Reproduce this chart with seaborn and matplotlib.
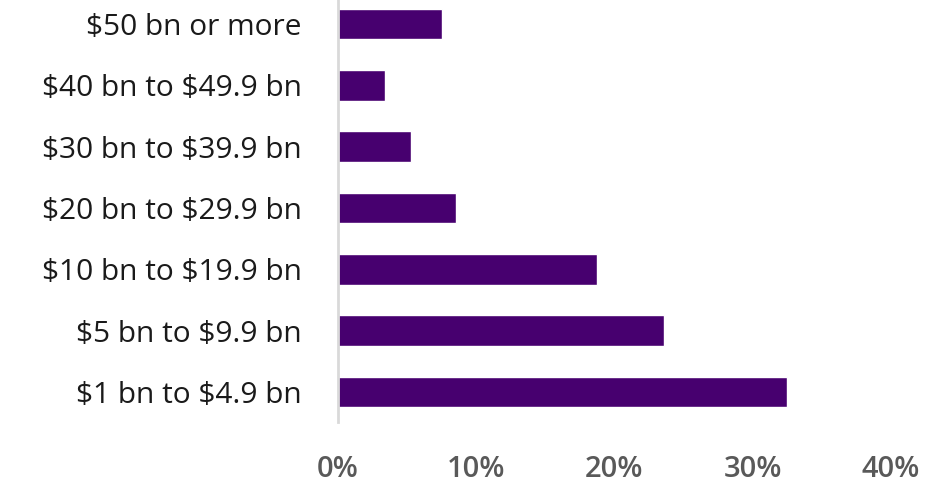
import matplotlib
matplotlib.use("Agg")
import matplotlib.pyplot as plt
import seaborn as sns
import pandas as pd
from matplotlib.ticker import FuncFormatter

categories = ["$50 bn or more", "$40 bn to $49.9 bn", "$30 bn to $39.9 bn",
              "$20 bn to $29.9 bn", "$10 bn to $19.9 bn", "$5 bn to $9.9 bn",
              "$1 bn to $4.9 bn"]
values = [7.5, 3.4, 5.3, 8.5, 18.7, 23.6, 32.5]
x_ticks = [0, 10, 20, 30, 40]

df = pd.DataFrame({"category": categories, "value": values})

sns.set_theme(style="white")
plt.rcParams['font.family'] = ['Open Sans', 'DejaVu Sans']
plt.rcParams['text.parse_math'] = False

fig = plt.figure(figsize=(9.43, 4.84), dpi=100)
ax = fig.add_axes([338/943, 1 - 422/484, (891 - 338)/943, 422/484])

sns.barplot(data=df, x="value", y="category", order=categories, color="#47006F",
            width=0.5, saturation=1, ax=ax, orient="h")

ax.set_xlim(0, 40)
ax.set_ylim(6.49, -0.39)
ax.set_xticks(x_ticks)
ax.xaxis.set_major_formatter(FuncFormatter(lambda v, p: f"{v:.0f}%"))
ax.set_xlabel("")
ax.set_ylabel("")
for s in ["top", "right", "bottom"]:
    ax.spines[s].set_visible(False)
ax.spines["left"].set_color("#D9D9D9")
ax.spines["left"].set_linewidth(2)
ax.tick_params(axis="x", length=0, pad=24, labelsize=21, labelcolor="#595959")
ax.tick_params(axis="y", length=0, pad=26, labelsize=21.5, labelcolor="#1A1A1A")
for lbl in ax.get_xticklabels():
    lbl.set_fontweight("semibold")

fig.savefig("out.png", dpi=100)
